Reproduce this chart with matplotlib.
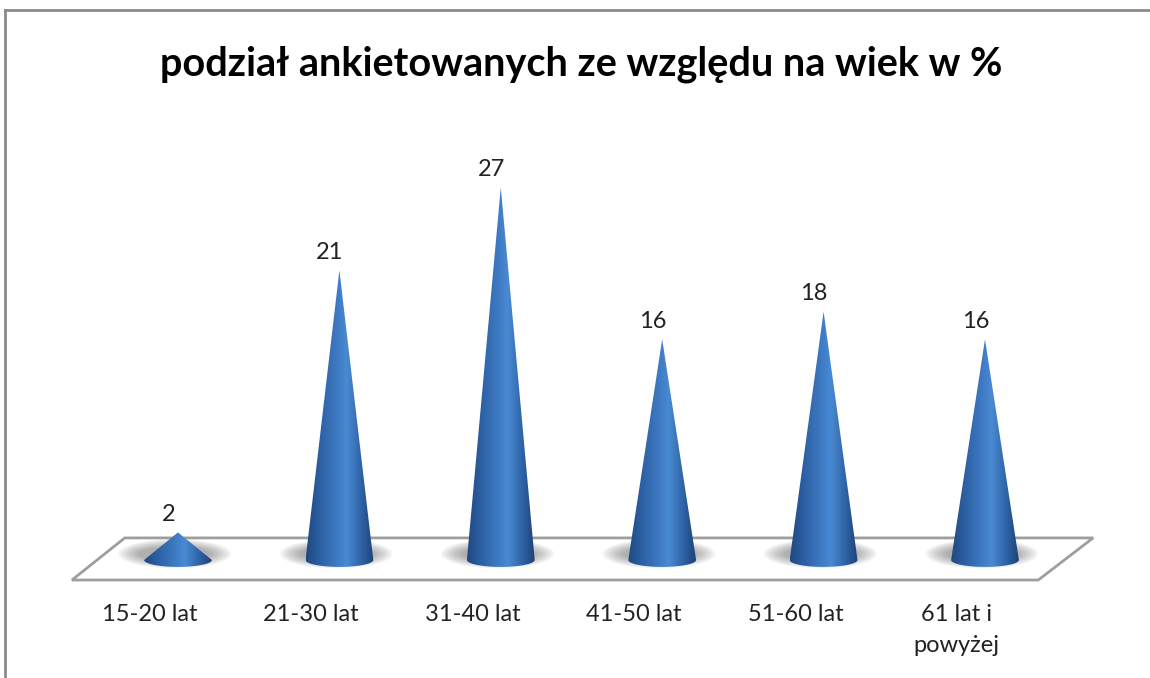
import numpy as np
import matplotlib
matplotlib.use('Agg')
import matplotlib.pyplot as plt
from matplotlib.patches import Polygon, Ellipse, PathPatch
from matplotlib.path import Path
from matplotlib.colors import LinearSegmentedColormap
from matplotlib.lines import Line2D

categories = ['15-20 lat', '21-30 lat', '31-40 lat', '41-50 lat', '51-60 lat', '61 lat i\npowyżej']
values = [2, 21, 27, 16, 18, 16]
title = 'podział ankietowanych ze względu na wiek w %'

plt.rcParams['font.family'] = ['Lato', 'DejaVu Sans']

fig = plt.figure(figsize=(11.5, 6.78), dpi=100)
ax = fig.add_axes([0, 0, 1, 1])
# data units -> pixels: 161.4 px per category, 13.8 px per value unit
ax.set_xlim(-1.1028, 6.0223)
ax.set_ylim(-8.55, 40.58)
ax.axis('off')

# outer chart border (top and left)
fig.add_artist(Line2D([0.004, 1.0], [1 - 10 / 678, 1 - 10 / 678], color='#8a8a8a', lw=2))
fig.add_artist(Line2D([0.004, 0.004], [0, 1 - 10 / 678], color='#8a8a8a', lw=2))

fig.text(0.505, 1 - 64 / 678, title, ha='center', va='center', fontsize=28.5, fontweight='bold', color='black')

n = len(values)
# floor (3d base plane)
floor = Polygon([[-0.33, 1.6], [n - 1 + 0.67, 1.6], [n - 1 + 0.33, -1.45], [-0.657, -1.45]],
                closed=True, facecolor='white', edgecolor='#9e9e9e', lw=2, zorder=1)
ax.add_patch(floor)

cone_cmap = LinearSegmentedColormap.from_list('cone', [
    (0.0, '#1f4880'), (0.2, '#2c5fa3'), (0.5, '#417fc8'), (0.6, '#4a8ad2'),
    (0.8, '#3066aa'), (1.0, '#1d4277')])

half_w = 0.21     # half base width, category units
ell_h = 0.5       # half height of base ellipse, value units
lbl_shift = 0.175  # category labels sit under the front edge of the floor

for i, v in enumerate(values):
    # soft shadow on the floor
    for k in range(10):
        s = 1 - k / 10
        sh = Ellipse((i - 0.02, 0.45), width=2 * (half_w + 0.14 * s), height=2 * (0.45 + 0.6 * s),
                     facecolor='#5a5a5a', edgecolor='none', alpha=0.06, zorder=2)
        ax.add_patch(sh)

    # cone outline: apex + sides + front half of base ellipse
    t = np.linspace(np.pi, 2 * np.pi, 40)
    bx = i + half_w * np.cos(t)
    by = ell_h * np.sin(t)
    verts = [(i, v)] + list(zip(bx, by)) + [(i, v)]
    path = Path(verts, closed=True)
    patch = PathPatch(path, facecolor='none', edgecolor='none', zorder=3)
    ax.add_patch(patch)

    grad = np.linspace(0, 1, 256).reshape(1, -1)
    im = ax.imshow(grad, cmap=cone_cmap, aspect='auto', origin='lower',
                   extent=[i - half_w, i + half_w, -ell_h, v], zorder=3, interpolation='bicubic')
    im.set_clip_path(patch)

    ax.text(i - 0.06, v + 1.3, str(v), ha='center', va='center', fontsize=17, color='#222222', zorder=5)
    ax.text(i - lbl_shift, -3.2, categories[i], ha='center', va='top', fontsize=17, color='#222222',
            linespacing=1.6, zorder=5)

fig.savefig('out.png', dpi=100)
